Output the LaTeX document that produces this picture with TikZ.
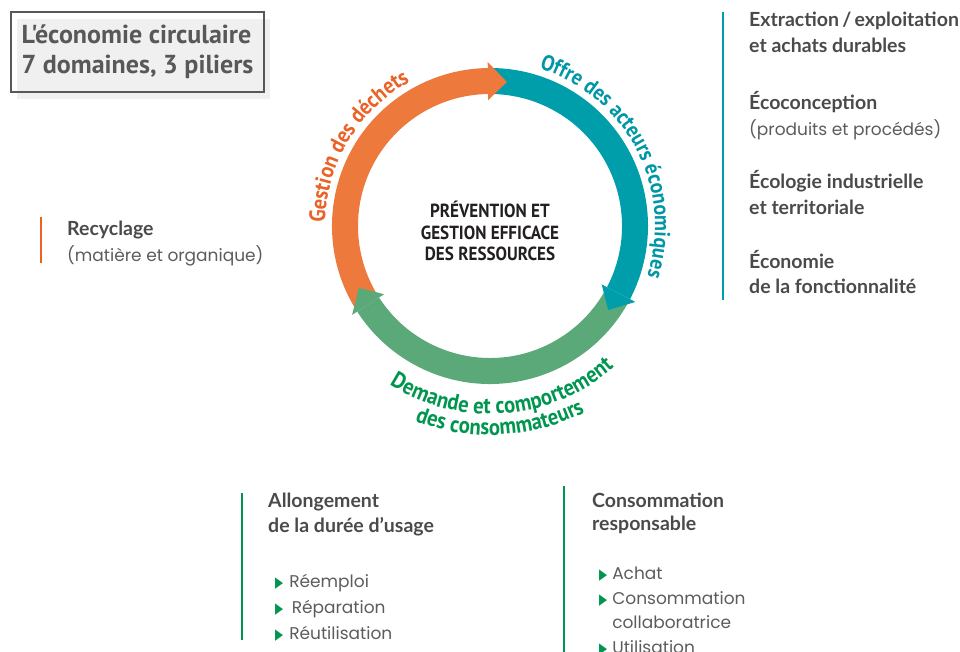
\documentclass[tikz,border=0pt]{standalone}
\usepackage{fontspec,graphicx}
\setmainfont{Poppins}
\newfontfamily\hdfont{Lato}
\newfontfamily\ringfont{PT Sans}[FakeStretch=0.9]
\newfontfamily\capfont{PT Sans}
\newfontfamily\symfont{DejaVu Sans}
\definecolor{ringorange}{RGB}{237,121,61}
\definecolor{ringteal}{RGB}{0,158,170}
\definecolor{ringgreen}{RGB}{91,168,121}
\definecolor{txtorange}{RGB}{234,98,38}
\definecolor{txtteal}{RGB}{0,150,165}
\definecolor{txtgreen}{RGB}{0,150,80}
\definecolor{headgray}{RGB}{74,74,74}
\definecolor{bodygray}{RGB}{92,92,92}
\definecolor{titlegray}{RGB}{88,88,88}
\definecolor{titlefill}{RGB}{240,240,240}
\usetikzlibrary{decorations.text,shadows}
\newcommand\hd[1]{{\hdfont\bfseries\fontsize{19.5}{25.5}\selectfont\color{headgray}#1}}
\newcommand\puce{{\symfont\color{txtgreen}\fontsize{15}{15}\selectfont\scalebox{0.7}[1]{▶}}}

\begin{document}
\begin{tikzpicture}[x=1pt,y=1pt,
  blk/.style={anchor=base west,inner sep=0pt,align=left,text=bodygray,font=\fontsize{17}{25.5}\selectfont},
  bar/.style={line width=2pt},
  ringlbl/.style={decorate,decoration={text along path,text align=center,text={#1}}}]
  \useasboundingbox (0,0) rectangle (960,-652);

  % title
  \node[draw=titlegray,line width=1.5pt,minimum width=253,minimum height=80,inner sep=0pt,
        drop shadow={shadow xshift=6pt,shadow yshift=-7pt,fill=titlefill,opacity=1},
        align=left,text=titlegray,font=\capfont\bfseries\fontsize{26}{30}\selectfont]
        (title) at (137.5,-52) {L'économie circulaire\\7 domaines, 3 piliers};

  % ring
  \begin{scope}[shift={(490,-226)}]
    \foreach \s/\e/\col in {212/90.8/ringorange,90/-27.6/ringteal,-28.5/-147.2/ringgreen}
      \fill[\col] (\s:158) arc[start angle=\s,end angle=\e,radius=158pt]
        -- (\e:132) arc[start angle=\e,end angle=\s,radius=132pt] -- cycle;
    \foreach \b/\t/\col in {90.8/83.3/ringorange,-27.6/-35.4/ringteal,-147.2/-154.8/ringgreen}
      \fill[\col] (\b:126) -- (\t:145) -- (\b:164) -- cycle;
    \path[ringlbl={|\ringfont\bfseries\fontsize{22.5}{22}\selectfont\color{txtorange}|Gestion des déchets}]
      (200:165) arc[start angle=200,end angle=98,radius=165pt];
    \path[ringlbl={|\ringfont\bfseries\fontsize{22}{22}\selectfont\color{txtteal}|Offre des acteurs économiques}]
      (86:165) arc[start angle=86,end angle=-31,radius=165pt];
    \path[ringlbl={|\ringfont\bfseries\fontsize{23}{22}\selectfont\color{txtgreen}|Demande et comportement}]
      (210:188) arc[start angle=210,end angle=339,radius=188pt];
    \path[ringlbl={|\ringfont\bfseries\fontsize{23}{22}\selectfont\color{txtgreen}|des consommateurs}]
      (225:209) arc[start angle=225,end angle=321,radius=209pt];
  \end{scope}
  \node[align=center,inner sep=0pt,text={rgb,255:red,35;green,31;blue,32},
        font=\ringfont\bfseries\fontsize{19}{21.7}\selectfont]
        (prev) at (490,-231) {PRÉVENTION ET\\GESTION EFFICACE\\DES RESSOURCES};

  % domaines
  \node[blk] (extr) at (749,-52.5) {\hd{Extraction\,/\,exploitation}\\\hd{et achats durables}};
  \node[blk] (ecoc) at (749,-135.5) {\hd{Écoconception}\\(produits et procédés)};
  \node[blk] (ecol) at (749,-214.5) {\hd{Écologie industrielle}\\\hd{et territoriale}};
  \node[blk] (fonc) at (749,-293.5) {\hd{Économie}\\\hd{de la fonctionnalité}};
  \draw[bar,ringteal] (723,-12) -- (723,-300);

  \node[blk] (recy) at (67,-261) {\hd{Recyclage}\\(matière et organique)};
  \draw[bar,txtorange] (41,-217) -- (41,-263);

  \node[blk] (allo) at (268,-532.5) {\hd{Allongement}\\\hd{de la durée d’usage}};
  \node[blk,font=\fontsize{17}{26}\selectfont] (usage) at (275,-639)
    {\puce\hspace{6pt}Réemploi\\\puce\hspace{8.5pt}Réparation\\\puce\hspace{6pt}Réutilisation};
  \draw[bar,txtgreen] (242,-493) -- (242,-640);

  \node[blk,font=\fontsize{17}{23.5}\selectfont] (cons) at (592,-530.5) {\hd{Consommation}\\\hd{responsable}};
  \node[blk,font=\fontsize{17}{24.5}\selectfont] (achat) at (599,-653)
    {\puce\hspace{5pt}Achat\\\puce\hspace{5pt}Consommation\\\phantom{\puce}\hspace{5pt}collaboratrice\\\puce\hspace{5pt}Utilisation};
  \draw[bar,txtgreen] (564,-486) -- (564,-652);
\end{tikzpicture}
\end{document}
